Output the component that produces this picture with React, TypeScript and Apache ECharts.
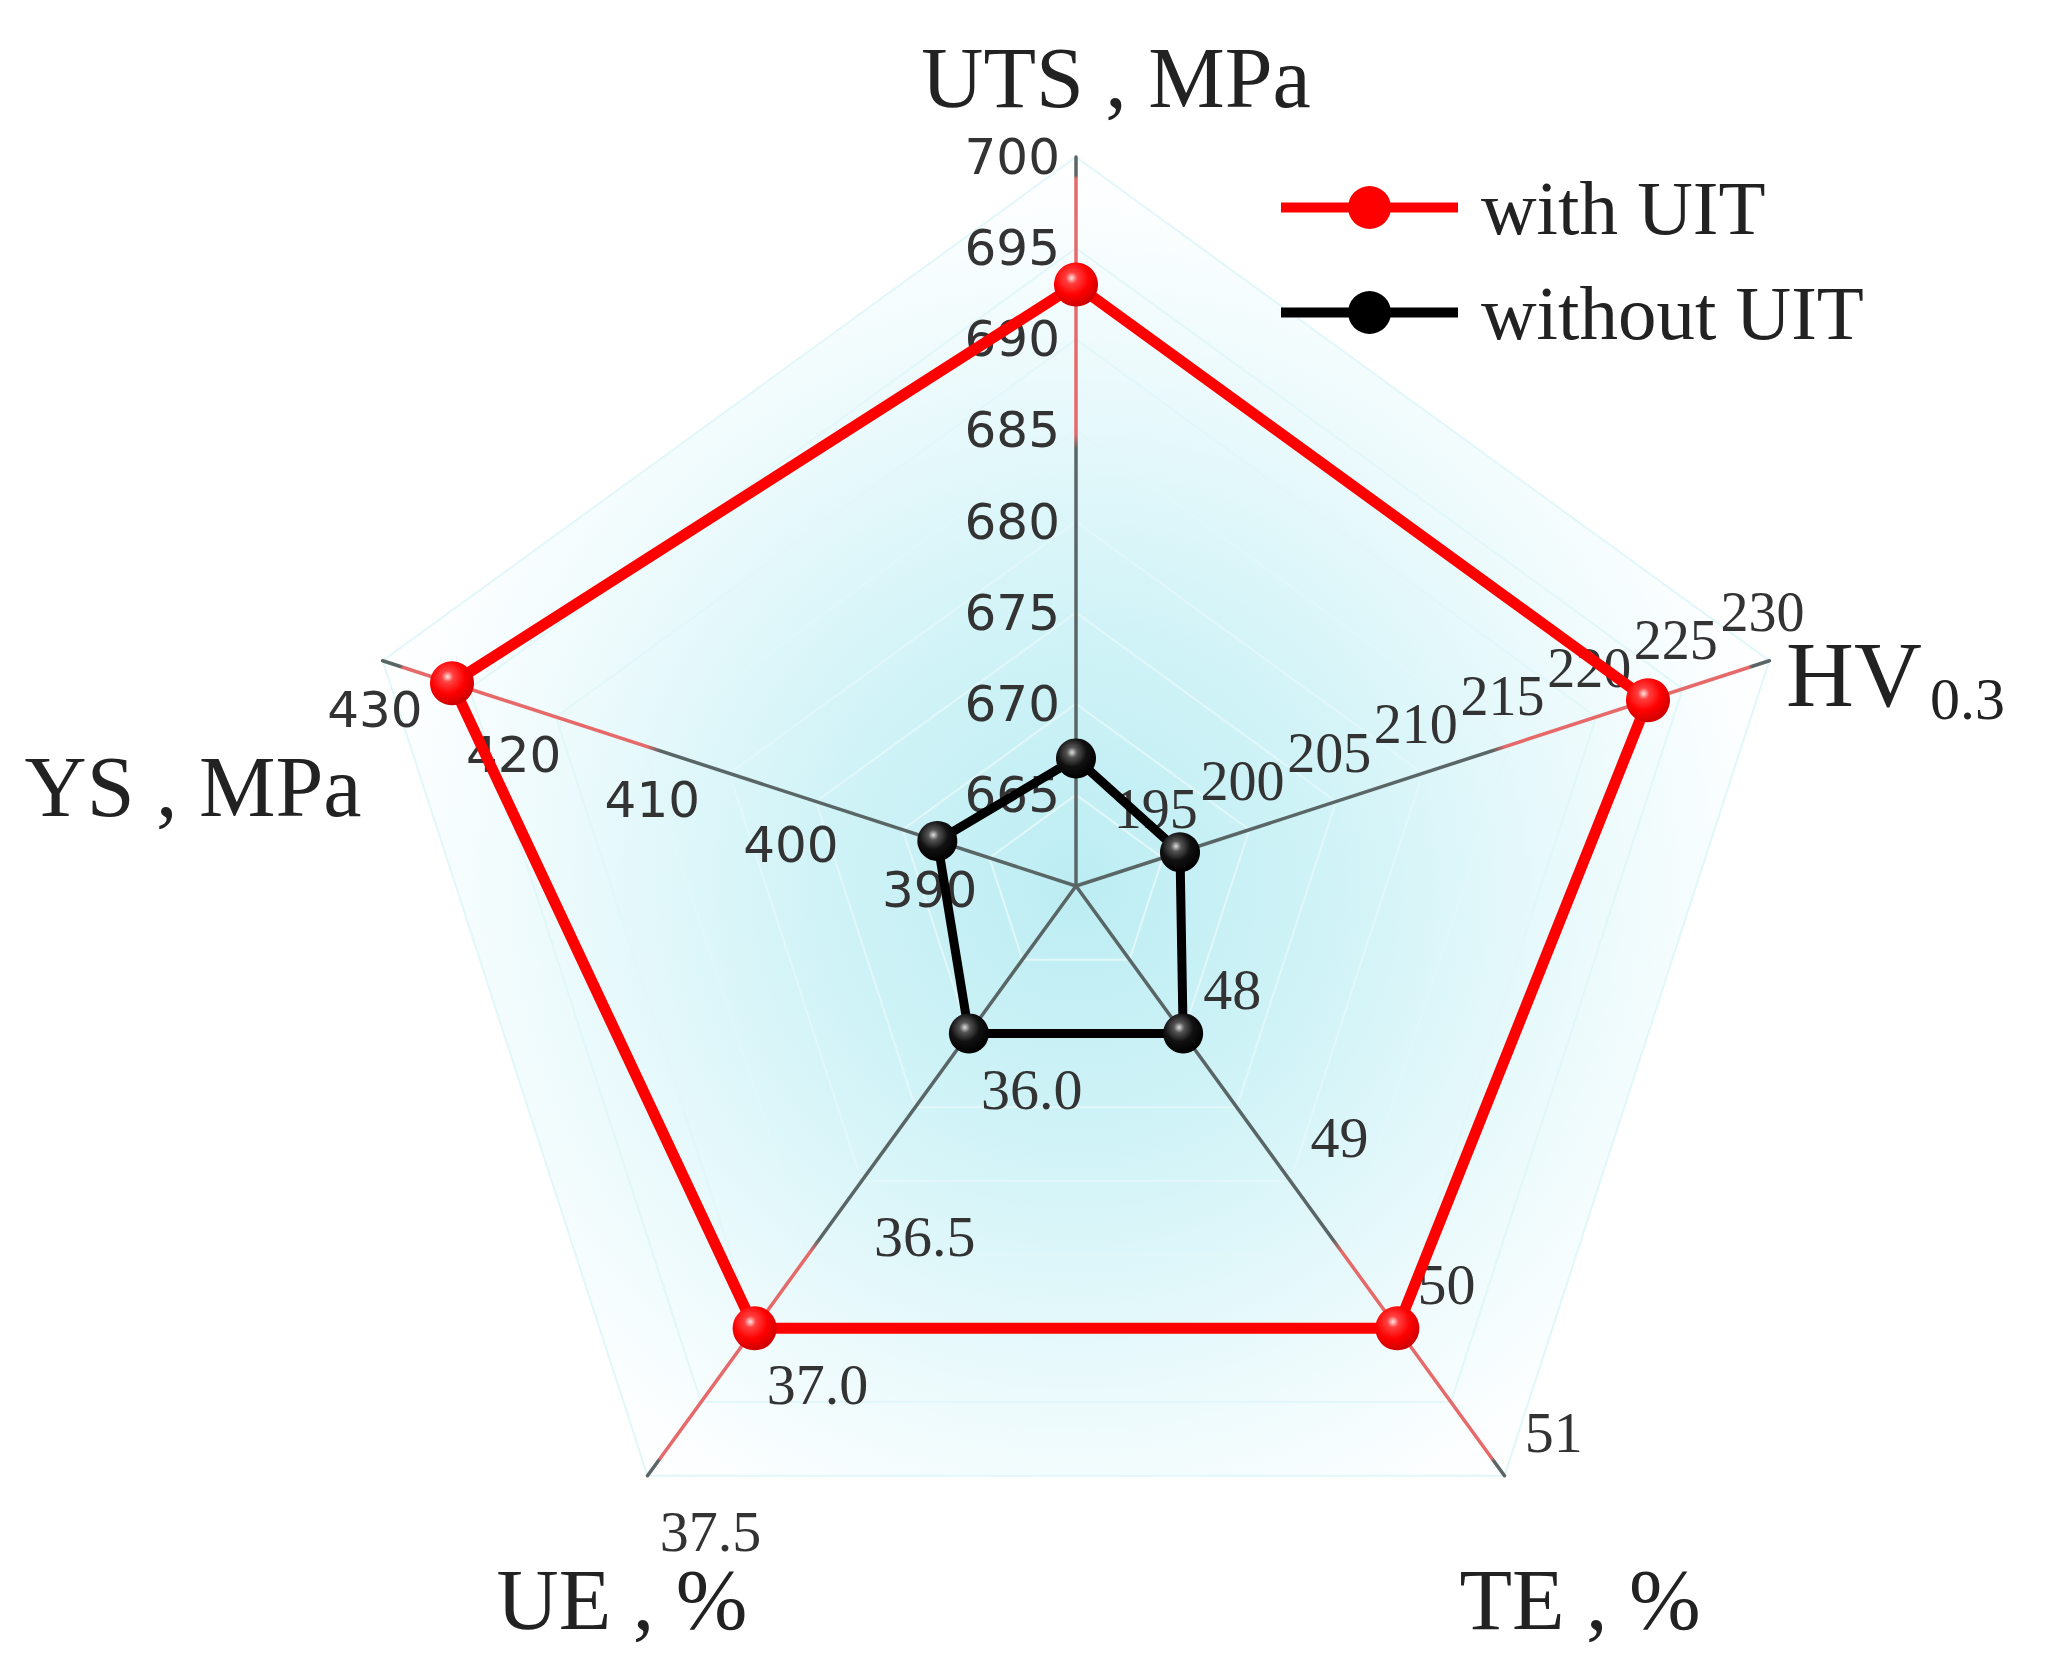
import React, { useEffect, useRef } from 'react';
import * as echarts from 'echarts';

// ---- data ----
const INDICATOR_NAMES = ['UTS', 'YS', 'UE', 'TE', 'HV'];
const INDICATOR_MIN = [660, 380, 35.5, 47, 190];
const INDICATOR_MAX = [700, 430, 37.5, 51, 230];
const TICK_SPLITS = [8, 5, 4, 4, 8];
const TICK_DECIMALS = [0, 0, 1, 0, 0];

const SERIES_NAMES = ['with UIT', 'without UIT'];
const WITH_UIT = [693, 425, 37.0, 50.0, 223];
const WITHOUT_UIT = [667, 390, 36.0, 48.0, 196];

const AXIS_TITLES = ['UTS , MPa', 'YS , MPa', 'UE , %', 'TE , %', 'HV'];
const HV_SUB = '0.3';

// ---- layout / style ----
const CX = 1076;
const CY = 886;
const R = 729;
const SERIF = "'Liberation Serif', 'Times New Roman', serif";
const SANS = "'DejaVu Sans', Verdana, sans-serif";

const indicators = INDICATOR_NAMES.map((n, i) => ({ name: n, min: INDICATOR_MIN[i], max: INDICATOR_MAX[i] }));

const baseRadar = {
  center: [CX, CY],
  radius: R,
  startAngle: 90,
  shape: 'polygon',
  indicator: indicators,
  axisName: { show: false },
};

function labelRadar(idx: number, labelOpts: any) {
  return {
    ...baseRadar,
    splitNumber: TICK_SPLITS[idx],
    splitLine: { show: false },
    splitArea: { show: false },
    axisLine: { show: false },
    axisTick: { show: false },
    axisLabel: {
      show: true,
      color: '#333',
      ...labelOpts,
      formatter: (v: any) => {
        const n = Number(v);
        const mn = INDICATOR_MIN[idx];
        const mx = INDICATOR_MAX[idx];
        if (n <= mn + 1e-9 || n > mx + 1e-9) return '';
        return n.toFixed(TICK_DECIMALS[idx]);
      },
    },
  };
}

const areaGradient = {
  type: 'radial', x: CX, y: CY, r: R, global: true,
  colorStops: [
    { offset: 0, color: '#bcedf3' },
    { offset: 0.35, color: '#d0f3f7' },
    { offset: 0.7, color: '#ebfafc' },
    { offset: 0.92, color: '#fbfeff' },
    { offset: 1, color: '#ffffff' },
  ],
};

const axisGradient = {
  type: 'radial', x: CX, y: CY, r: R, global: true,
  colorStops: [
    { offset: 0, color: '#5a6666' },
    { offset: 0.6, color: '#5a6666' },
    { offset: 0.62, color: '#e66a6a' },
    { offset: 0.97, color: '#e66a6a' },
    { offset: 0.975, color: '#5a6666' },
    { offset: 1, color: '#5a6666' },
  ],
};

const redBall = new echarts.graphic.RadialGradient(0.4, 0.35, 0.65, [
  { offset: 0, color: '#ffe4e4' },
  { offset: 0.2, color: '#ff4040' },
  { offset: 0.6, color: '#ff0000' },
  { offset: 1, color: '#d00000' },
]);
const blackBall = new echarts.graphic.RadialGradient(0.4, 0.35, 0.65, [
  { offset: 0, color: '#dddddd' },
  { offset: 0.2, color: '#555555' },
  { offset: 0.55, color: '#111111' },
  { offset: 1, color: '#000000' },
]);

const LEGEND_ICON = 'path://M0,15.5H177V25.5H0Z M67,20.5A21.5,21.5,0,1,1,110,20.5A21.5,21.5,0,1,1,67,20.5Z';

function titleText(text: string, x: number, y: number, size: number, align: string) {
  return {
    type: 'text',
    x,
    y,
    silent: true,
    style: {
      text,
      fontFamily: SERIF,
      fontSize: size,
      fill: '#222',
      align,
      verticalAlign: 'middle',
      textAlign: align,
      textVerticalAlign: 'middle',
    },
  };
}

const option: any = {
  animation: false,
  backgroundColor: '#ffffff',
  radar: [
    {
      ...baseRadar,
      splitNumber: 8,
      splitArea: { show: true, areaStyle: { color: [areaGradient] } },
      splitLine: { show: true, lineStyle: { color: '#e2f7f9', width: 2 } },
      axisLine: { show: true, lineStyle: { color: axisGradient, width: 3.5 } },
      axisTick: { show: false },
      axisLabel: { show: false },
    },
    labelRadar(0, { margin: 16, align: 'right', verticalAlign: 'middle', fontFamily: SANS, fontSize: 50 }),
    labelRadar(1, { margin: 25, align: 'center', verticalAlign: 'top', fontFamily: SANS, fontSize: 50 }),
    labelRadar(2, { margin: 15, align: 'left', verticalAlign: 'top', padding: [18, 0, 0, 0], fontFamily: SERIF, fontSize: 58 }),
    labelRadar(3, { margin: 25, align: 'left', verticalAlign: 'bottom', fontFamily: SERIF, fontSize: 58 }),
    labelRadar(4, { margin: 22, align: 'center', verticalAlign: 'bottom', fontFamily: SERIF, fontSize: 56 }),
  ],
  legend: {
    orient: 'vertical',
    left: 1276,
    top: 164,
    itemWidth: 177,
    itemHeight: 43,
    itemGap: 28,
    icon: LEGEND_ICON,
    textStyle: { fontFamily: SERIF, fontSize: 77, color: '#222', padding: [0, 0, 0, 18] },
    data: [
      { name: SERIES_NAMES[0], itemStyle: { color: '#ff0000' } },
      { name: SERIES_NAMES[1], itemStyle: { color: '#000000' } },
    ],
  },
  graphic: [
    titleText(AXIS_TITLES[0], 1116, 78, 86, 'center'),
    titleText(AXIS_TITLES[1], 193, 787, 86, 'center'),
    titleText(AXIS_TITLES[2], 622, 1600, 86, 'center'),
    titleText(AXIS_TITLES[3], 1580, 1600, 86, 'center'),
    titleText(AXIS_TITLES[4], 1786, 674, 94, 'left'),
    titleText(HV_SUB, 1930, 699, 60, 'left'),
  ],
  series: [
    {
      type: 'radar',
      radarIndex: 0,
      symbol: 'circle',
      data: [
        {
          name: SERIES_NAMES[0],
          value: WITH_UIT,
          symbolSize: 44,
          lineStyle: { color: '#ff0000', width: 11 },
          itemStyle: { color: redBall },
        },
        {
          name: SERIES_NAMES[1],
          value: WITHOUT_UIT,
          symbolSize: 40,
          lineStyle: { color: '#000000', width: 9 },
          itemStyle: { color: blackBall },
        },
      ],
    },
  ],
};

export default function App() {
  const ref = useRef<HTMLDivElement>(null);
  useEffect(() => {
    if (!ref.current) return;
    const chart = echarts.init(ref.current, null, { renderer: 'svg' });
    chart.setOption(option);
    return () => chart.dispose();
  }, []);
  return <div ref={ref} style={{ position: 'absolute', left: 0, top: 0, width: 2052, height: 1671 }} />;
}
